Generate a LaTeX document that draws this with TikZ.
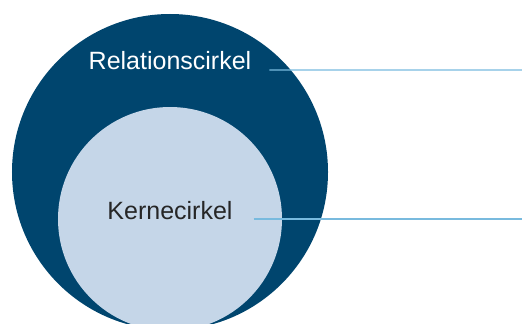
\documentclass[tikz,border=0pt]{standalone}
\usepackage{fontspec}
\setmainfont{Liberation Sans}
\usetikzlibrary{positioning}

\definecolor{darkblue}{RGB}{0,69,110}
\definecolor{paleblue}{RGB}{197,214,232}
\definecolor{lineblue}{RGB}{120,186,222}

\begin{document}
\begin{tikzpicture}[x=1bp, y=1bp,
circle_outer/.style={circle, fill=darkblue, minimum size=316bp, inner sep=0},
circle_inner/.style={circle, fill=paleblue, minimum size=224bp, inner sep=0},
label_text/.style={anchor=base, inner sep=0, font=\fontsize{25bp}{29bp}\selectfont},
pointer/.style={draw=lineblue, line width=1.3bp},
]
\useasboundingbox (0,0) rectangle (522,323);
\clip (0,0) rectangle (522,323);

% \node[type](name_of_node) at (x,y) {}
\node[circle_outer](outer) at (170,151) {};
\node[circle_inner](inner) at (170,104) {};

\node[label_text, text=white](relation) at (170,253.7) {Relationscirkel};
\node[label_text, text=black!85](kerne) at (170,104) {Kernecirkel};

\coordinate (relationend) at (522,253);
\coordinate (kerneend) at (522,104);

% \draw (name_of_node.direction) -- (name_of_node)
\draw[pointer] ([xshift=18bp, yshift=-0.7bp]relation.base east) -- (relationend);
\draw[pointer] ([xshift=21bp]kerne.base east) -- (kerneend);

\end{tikzpicture}
\end{document}
